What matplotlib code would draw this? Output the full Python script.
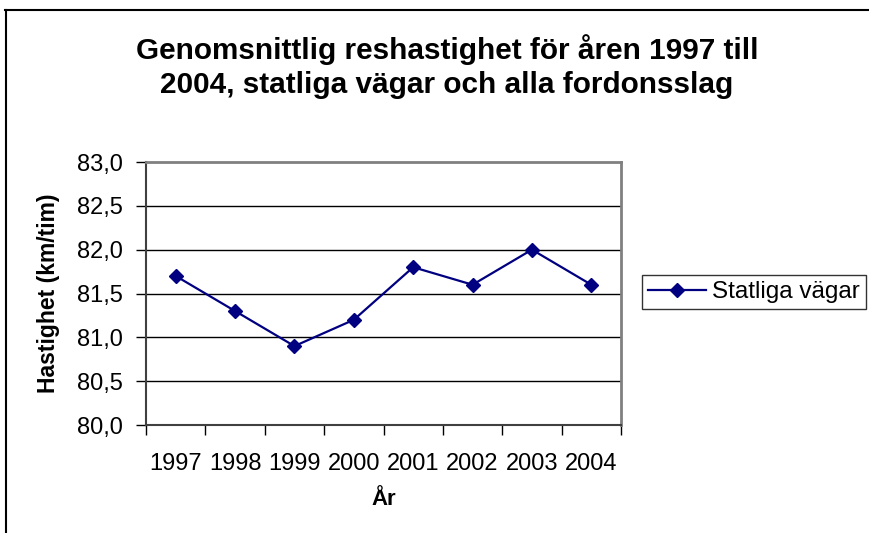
import matplotlib.pyplot as plt
from matplotlib.lines import Line2D

years = ['1997', '1998', '1999', '2000', '2001', '2002', '2003', '2004']
speed = [81.7, 81.3, 80.9, 81.2, 81.8, 81.6, 82.0, 81.6]
y_ticks = [80.0, 80.5, 81.0, 81.5, 82.0, 82.5, 83.0]

plt.rcParams['font.family'] = ['Liberation Sans', 'DejaVu Sans']

W, H = 869, 533
fig = plt.figure(figsize=(W / 100, H / 100), dpi=100)

# outer chart frame (only top and left edges are visible)
fig.add_artist(Line2D([5 / W, 868 / W], [1 - 10 / H, 1 - 10 / H], color='black', lw=1.5))
fig.add_artist(Line2D([6 / W, 6 / W], [0, 1 - 10 / H], color='black', lw=1.5))

ax = fig.add_axes([146 / W, (H - 425) / H, 475 / W, 263 / H])

x = list(range(len(years)))
ax.plot(x, speed, color='#000080', lw=1.6, marker='D', markersize=7,
        label='Statliga vägar')

ax.set_xlim(-0.5, len(years) - 0.5)
ax.set_ylim(80, 83)
ax.set_yticks(y_ticks)
ax.set_yticklabels([f'{v:.1f}'.replace('.', ',') for v in y_ticks], fontsize=17)
ax.tick_params(axis='y', length=7, width=1, direction='out', pad=10)

# labels centred in categories, ticks between categories
ax.set_xticks(x)
ax.set_xticklabels(years, fontsize=17)
ax.tick_params(axis='x', which='major', length=0, pad=20)
ax.set_xticks([i - 0.5 for i in range(len(years) + 1)], minor=True)
ax.tick_params(axis='x', which='minor', length=7, width=1, direction='out')

for v in y_ticks[1:-1]:
    ax.axhline(v, color='black', lw=1, zorder=0)

for s in ['top', 'right']:
    ax.spines[s].set_color('#808080')
    ax.spines[s].set_linewidth(2)
for s in ['left', 'bottom']:
    ax.spines[s].set_color('#404040')
    ax.spines[s].set_linewidth(1.5)

ax.set_ylabel('Hastighet (km/tim)', fontsize=16.5, fontweight='bold', labelpad=12)
ax.set_xlabel('År', fontsize=16, fontweight='bold', labelpad=10)

fig.text(447 / W, 1 - 66.5 / H,
         'Genomsnittlig reshastighet för åren 1997 till\n2004, statliga vägar och alla fordonsslag',
         ha='center', va='center', fontsize=21.4, fontweight='bold', linespacing=1.3)

leg = fig.legend(loc='center left', bbox_to_anchor=(642 / W, 1 - 292 / H),
                 fontsize=17.5, frameon=True, fancybox=False, handlelength=2.4,
                 borderpad=0.25, handletextpad=0.25, borderaxespad=0)
leg.get_frame().set_edgecolor('black')
leg.get_frame().set_linewidth(1)

fig.savefig('out.png', dpi=100)
